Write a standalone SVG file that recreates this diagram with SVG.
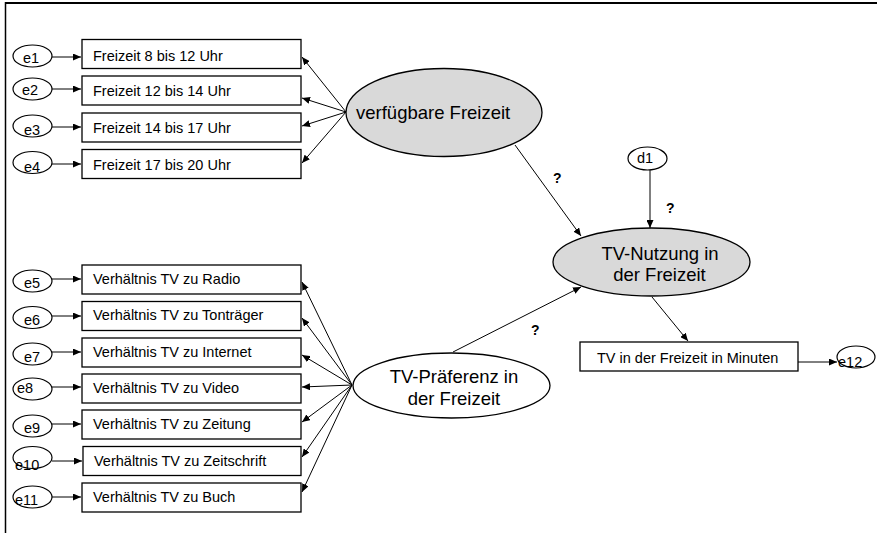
<svg xmlns="http://www.w3.org/2000/svg" width="877" height="533" viewBox="0 0 877 533">
<style>
text{font-family:"Liberation Sans",Arial,sans-serif;fill:#000}
.bt{font-size:14.5px}
.et{font-size:14.5px}
.lt{font-size:18.5px}
.q{font-size:14px;font-weight:bold}
rect.box{fill:#fff;stroke:#000;stroke-width:1.3}
ellipse.e{fill:#fff;stroke:#000;stroke-width:1.2}
ellipse.lat{fill:#d9d9d9;stroke:#000;stroke-width:1.3}
ellipse.latw{fill:#fff;stroke:#000;stroke-width:1.3}
#connectors line{stroke:#000;stroke-width:1;marker-end:url(#arr)}
</style>
<defs>
<marker id="arr" markerUnits="userSpaceOnUse" markerWidth="9" markerHeight="7" refX="8" refY="3.5" orient="auto">
<path d="M0,0 L8,3.5 L0,7 z" fill="#000"/>
</marker>
</defs>
<rect width="877" height="533" fill="#fff"/>
<g id="frame" stroke="#000" fill="none">
<line x1="5" y1="3" x2="877" y2="3" stroke-width="2"/>
<line x1="5.5" y1="2" x2="5.5" y2="533" stroke-width="1.5"/>
</g>
<g id="connectors">
<line x1="52" y1="57" x2="81" y2="57"/>
<line x1="52" y1="89" x2="81" y2="89"/>
<line x1="52" y1="127" x2="81" y2="127"/>
<line x1="52" y1="164" x2="81" y2="164"/>
<line x1="52" y1="279" x2="81" y2="279"/>
<line x1="52" y1="316" x2="81" y2="316"/>
<line x1="52" y1="352" x2="81" y2="352"/>
<line x1="52" y1="387" x2="81" y2="387"/>
<line x1="52" y1="424" x2="81" y2="424"/>
<line x1="52" y1="461" x2="82" y2="461"/>
<line x1="52" y1="497" x2="81" y2="497"/>
<line x1="346" y1="112" x2="302" y2="57"/>
<line x1="346" y1="112" x2="302" y2="98"/>
<line x1="346" y1="112" x2="302" y2="126"/>
<line x1="346" y1="112" x2="302" y2="163"/>
<line x1="352" y1="385" x2="302" y2="282"/>
<line x1="352" y1="385" x2="302" y2="318"/>
<line x1="352" y1="385" x2="302" y2="355"/>
<line x1="352" y1="385" x2="302" y2="387"/>
<line x1="352" y1="385" x2="302" y2="422"/>
<line x1="352" y1="385" x2="302" y2="457"/>
<line x1="352" y1="385" x2="302" y2="492"/>
<line x1="515" y1="145" x2="581" y2="236"/>
<line x1="453" y1="352" x2="581" y2="287"/>
<line x1="650" y1="170" x2="650" y2="228"/>
<line x1="652" y1="297" x2="688" y2="341"/>
<line x1="798" y1="362" x2="837" y2="362"/>
</g>
<g id="e1"><ellipse class="e" cx="32.5" cy="56" rx="19.5" ry="11"/><text class="et" x="23" y="63">e1</text></g>
<g id="e2"><ellipse class="e" cx="32.5" cy="89" rx="19.5" ry="11"/><text class="et" x="22" y="95">e2</text></g>
<g id="e3"><ellipse class="e" cx="32.5" cy="126" rx="19.5" ry="11"/><text class="et" x="24" y="135">e3</text></g>
<g id="e4"><ellipse class="e" cx="32.5" cy="162.5" rx="19.5" ry="11"/><text class="et" x="24" y="172">e4</text></g>
<g id="b1"><rect class="box" x="82" y="39.5" width="219" height="29"/><text class="bt" x="93" y="61">Freizeit 8 bis 12 Uhr</text></g>
<g id="b2"><rect class="box" x="82" y="76" width="219" height="29"/><text class="bt" x="93" y="96">Freizeit 12 bis 14 Uhr</text></g>
<g id="b3"><rect class="box" x="82" y="113" width="219" height="29"/><text class="bt" x="93" y="133">Freizeit 14 bis 17 Uhr</text></g>
<g id="b4"><rect class="box" x="82" y="149.5" width="219" height="29"/><text class="bt" x="93" y="170">Freizeit 17 bis 20 Uhr</text></g>
<g id="e5"><ellipse class="e" cx="32.5" cy="281" rx="19.5" ry="11"/><text class="et" x="24" y="288">e5</text></g>
<g id="e6"><ellipse class="e" cx="32.5" cy="317.5" rx="19.5" ry="11"/><text class="et" x="24" y="325">e6</text></g>
<g id="e7"><ellipse class="e" cx="32.5" cy="354" rx="19.5" ry="11"/><text class="et" x="24" y="362">e7</text></g>
<g id="e8"><ellipse class="e" cx="32.5" cy="389" rx="19.5" ry="11"/><text class="et" x="17" y="393">e8</text></g>
<g id="e9"><ellipse class="e" cx="32.5" cy="426" rx="19.5" ry="11"/><text class="et" x="24" y="433">e9</text></g>
<g id="e10"><ellipse class="e" cx="32.5" cy="457.5" rx="19.5" ry="11"/><text class="et" x="15" y="470">e10</text></g>
<g id="e11"><ellipse class="e" cx="32.5" cy="497" rx="19.5" ry="11"/><text class="et" x="15" y="505">e11</text></g>
<g id="b5"><rect class="box" x="82" y="265" width="219" height="29"/><text class="bt" x="93" y="284">Verhältnis TV zu Radio</text></g>
<g id="b6"><rect class="box" x="82" y="301.5" width="219" height="29"/><text class="bt" x="93" y="320">Verhältnis TV zu Tonträger</text></g>
<g id="b7"><rect class="box" x="82" y="338" width="219" height="29"/><text class="bt" x="93" y="357">Verhältnis TV zu Internet</text></g>
<g id="b8"><rect class="box" x="82" y="374" width="219" height="29"/><text class="bt" x="93" y="393">Verhältnis TV zu Video</text></g>
<g id="b9"><rect class="box" x="82" y="410" width="219" height="29"/><text class="bt" x="93" y="429">Verhältnis TV zu Zeitung</text></g>
<g id="b10"><rect class="box" x="83" y="446.5" width="218" height="29"/><text class="bt" x="94" y="466">Verhältnis TV zu Zeitschrift</text></g>
<g id="b11"><rect class="box" x="82" y="483" width="219" height="29"/><text class="bt" x="93" y="502">Verhältnis TV zu Buch</text></g>
<g id="verfuegbare"><ellipse class="lat" cx="444" cy="112.5" rx="98" ry="44"/><text class="lt" x="356" y="119">verfügbare Freizeit</text></g>
<g id="praeferenz"><ellipse class="latw" cx="451.5" cy="385.5" rx="98.5" ry="32.5"/><text class="lt" x="454" y="383" text-anchor="middle">TV-Präferenz in</text><text class="lt" x="454" y="405" text-anchor="middle">der Freizeit</text></g>
<g id="nutzung"><ellipse class="lat" cx="651.5" cy="262" rx="98.5" ry="34"/><text class="lt" x="660" y="260" text-anchor="middle">TV-Nutzung in</text><text class="lt" x="659.5" y="281" text-anchor="middle">der Freizeit</text></g>
<g id="d1"><ellipse class="e" cx="647.5" cy="158.5" rx="19.5" ry="11.5"/><text class="et" x="637" y="163">d1</text></g>
<g id="minuten"><rect class="box" x="580" y="342" width="218" height="29"/><text class="bt" x="597" y="363">TV in der Freizeit in Minuten</text></g>
<g id="e12"><ellipse class="e" cx="856" cy="357" rx="19" ry="11"/><text class="et" x="838" y="367">e12</text></g>
<g id="labels">
<text class="q" x="553" y="183">?</text>
<text class="q" x="666" y="213">?</text>
<text class="q" x="531" y="335">?</text>
</g>
</svg>
